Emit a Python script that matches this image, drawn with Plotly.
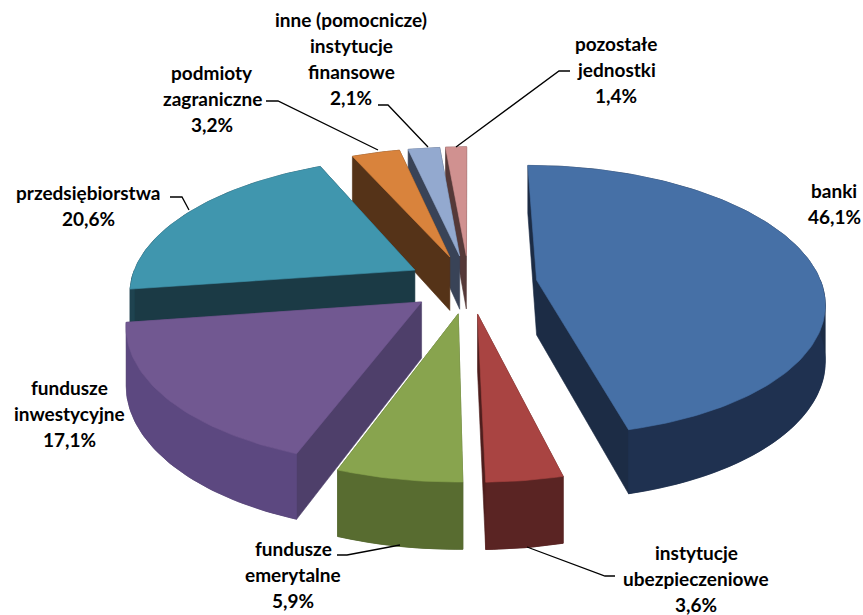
import numpy as np
import plotly.graph_objects as go

# ---------------- data ----------------
categories = [
    "banki",
    "instytucje\nubezpieczeniowe",
    "fundusze\nemerytalne",
    "fundusze\ninwestycyjne",
    "przedsiębiorstwa",
    "podmioty\nzagraniczne",
    "inne (pomocnicze)\ninstytucje\nfinansowe",
    "pozostałe\njednostki",
]
shares = [46.1, 3.6, 5.9, 17.1, 20.6, 3.2, 2.1, 1.4]

# ---------------- styles ----------------
top_colors = ["#4670A6", "#A94442", "#88A44E", "#715891", "#4096AE", "#D9833C", "#93A9CF", "#D09190"]
wall_colors = ["#1C2C45", "#4F1E1D", "#4B5C28", "#4E3F6A", "#1B3A45", "#553318", "#394357", "#553938"]
outer_colors = ["#1F3150", "#5A2423", "#586C30", "#5C4880", "#1F4350", "#6B3F1B", "#4A5570", "#6A4645"]
explode = [0.24, 0.22, 0.22, 0.21, 0.22, 0.22, 0.22, 0.22]

# label layout: (center x, first line y, leader polyline)
label_layout = [
    (834, 190, None),
    (696, 552, [(527, 547), (605, 576), (615, 576)]),
    (293, 548, [(337, 555), (347, 555), (400, 545)]),
    (69, 387, None),
    (88, 192, [(170, 197), (182, 197), (189, 210)]),
    (212, 72, [(266, 101), (278, 101), (378, 150)]),
    (351, 19, [(378, 105), (388, 105), (428, 147)]),
    (616, 43, [(570, 71), (559, 71), (456, 147)]),
]
LINE_PITCH = 26.0

CX, CY = 469, 284
A, B = 285, 133
P = 0.15
H = 55
W, HT = 863, 615


def proj(x, z, drop=0.0):
    s = 1.0 / (1.0 + P * z)
    return CX + A * x * s, CY - B * z * s + H * s * drop


def hull(points):
    pts = sorted(set(points))
    if len(pts) <= 2:
        return pts

    def cross(o, a, b):
        return (a[0] - o[0]) * (b[1] - o[1]) - (a[1] - o[1]) * (b[0] - o[0])

    lower = []
    for p in pts:
        while len(lower) >= 2 and cross(lower[-2], lower[-1], p) <= 0:
            lower.pop()
        lower.append(p)
    upper = []
    for p in reversed(pts):
        while len(upper) >= 2 and cross(upper[-2], upper[-1], p) <= 0:
            upper.pop()
        upper.append(p)
    return lower[:-1] + upper[:-1]


total = sum(shares)
fracs = np.array(shares) / total
starts = np.concatenate([[0], np.cumsum(fracs)[:-1]]) * 2 * np.pi
ends = np.cumsum(fracs) * 2 * np.pi

slices = []
for i in range(len(shares)):
    t0, t1 = starts[i], ends[i]
    m = 0.5 * (t0 + t1)
    ox, oz = explode[i] * np.sin(m), explode[i] * np.cos(m)
    th = np.linspace(t0, t1, max(4, int((t1 - t0) / 0.02)))
    top = [proj(ox, oz)] + [proj(ox + np.sin(t), oz + np.cos(t)) for t in th]
    bot = [proj(ox, oz, 1)] + [proj(ox + np.sin(t), oz + np.cos(t), 1) for t in th]
    h = hull([(round(a, 3), round(b, 3)) for a, b in top + bot])
    # outer wall visible (front half)
    a0, a1 = max(t0, np.pi / 2), min(t1, 3 * np.pi / 2)
    outer = None
    if a1 > a0:
        tt = np.linspace(a0, a1, max(4, int((a1 - a0) / 0.02)))
        ot = [proj(ox + np.sin(t), oz + np.cos(t)) for t in tt]
        ob = [proj(ox + np.sin(t), oz + np.cos(t), 1) for t in tt]
        outer = ot + ob[::-1]
    slices.append(dict(i=i, depth=oz + np.cos(m), top=top, hull=h, outer=outer))

fig = go.Figure()


def add_poly(pts, color):
    xs = [p[0] for p in pts] + [pts[0][0]]
    ys = [p[1] for p in pts] + [pts[0][1]]
    fig.add_trace(go.Scatter(x=xs, y=ys, mode="lines", fill="toself", fillcolor=color,
                             line=dict(color=color, width=0.6), hoverinfo="skip", showlegend=False))


for s in sorted(slices, key=lambda d: -d["depth"]):
    i = s["i"]
    add_poly(s["hull"], wall_colors[i])
    if s["outer"] is not None:
        add_poly(s["outer"], outer_colors[i])
    add_poly(s["top"], top_colors[i])

# leader lines
for i, (lx, ly, lead) in enumerate(label_layout):
    if lead:
        fig.add_trace(go.Scatter(x=[p[0] for p in lead], y=[p[1] for p in lead], mode="lines",
                                 line=dict(color="black", width=1.3), hoverinfo="skip", showlegend=False))

# labels
for i, (lx, ly, lead) in enumerate(label_layout):
    lines = categories[i].split("\n") + [f"{shares[i]:.1f}".replace(".", ",") + "%"]
    for k, t in enumerate(lines):
        fig.add_annotation(x=lx, y=ly + k * LINE_PITCH, text=t, showarrow=False,
                           xanchor="center", yanchor="middle",
                           font=dict(family="Lato", size=19, color="black", weight="bold"))

fig.update_layout(
    width=W, height=HT, margin=dict(l=0, r=0, t=0, b=0),
    paper_bgcolor="white", plot_bgcolor="white",
    xaxis=dict(range=[0, W], visible=False, fixedrange=True),
    yaxis=dict(range=[HT, 0], visible=False, fixedrange=True),
    showlegend=False,
)

fig.write_html("out.html")
